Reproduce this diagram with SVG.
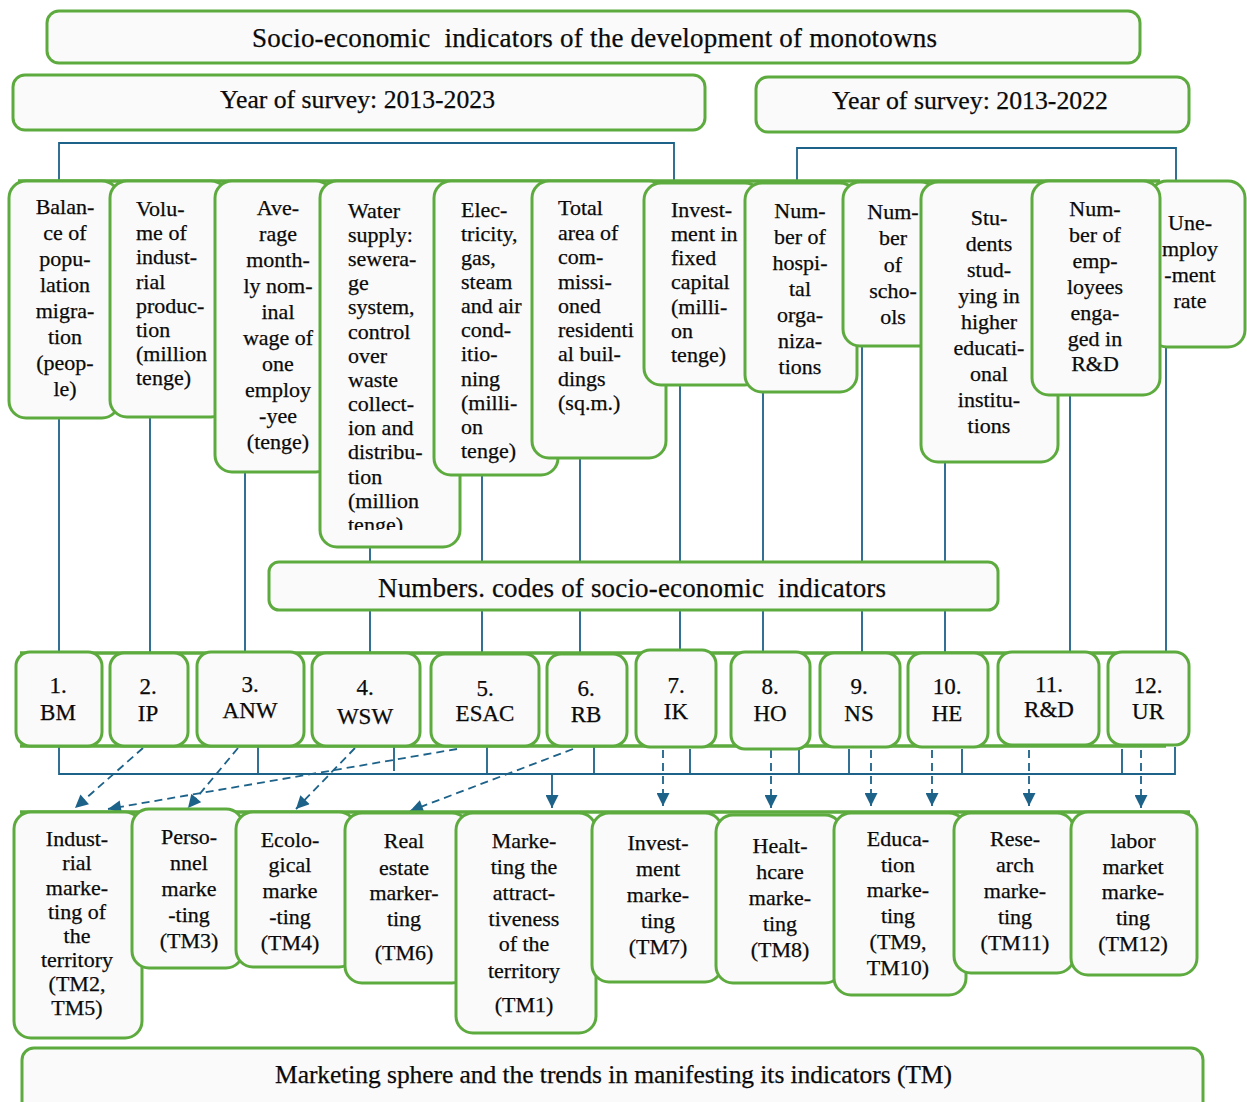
<svg xmlns="http://www.w3.org/2000/svg" width="1247" height="1102" viewBox="0 0 1247 1102" font-family="'Liberation Serif', 'Times New Roman', serif">
<style>
.box{fill:#fafafa;stroke:#5dab3e;stroke-width:3}
.t{font-family:'Liberation Serif','Times New Roman',serif;font-size:22px;fill:#0a0a0a;stroke:#0a0a0a;stroke-width:0.25}
.c{text-anchor:middle}
.big{font-size:27px}
.year{font-size:26px}
.foot{font-size:25.5px}
.code{font-size:23px}
.conn{stroke:#1d6289;stroke-width:1.8;fill:none}
.dash{stroke-dasharray:8 5}
.frame{stroke:#5dab3e;stroke-width:3.5;fill:none}
</style>
<defs>
<marker id="ah" viewBox="0 0 10 10" refX="10" refY="5" markerWidth="14" markerHeight="13" markerUnits="userSpaceOnUse" orient="auto">
<path d="M0,0 L10,5 L0,10 z" fill="#1d6289"/>
</marker>
<clipPath id="cw"><rect x="320" y="181" width="140" height="349"/></clipPath>
</defs>
<rect width="1247" height="1102" fill="#ffffff"/>

<g id="connectors">
<path class="conn" d="M59,181 V143 H674 V181"/>
<path class="conn" d="M797,181 V148 H1176 V181"/>
<path class="conn" d="M59,418 V652 M150,417 V652 M245,472 V652 M370,547 V652 M482,475 V652 M580,458 V652 M680,385 V652 M763,392 V652 M862,346 V652 M945,462 V652 M1070,395 V652 M1166,347 V652"/>
<path class="conn" d="M59,747 V774 H1175 V747 M258,747 V774 M394,747 V771 M487,747 V774 M594,747 V774 M690,749 V773 M799,749 V775 M849,749 V775 M962,749 V773 M1122,749 V775"/>
<path class="conn" stroke-width="3" d="M552,774 V808" marker-end="url(#ah)"/>
<g class="conn dash">
<path d="M143,748 L75,808" marker-end="url(#ah)"/>
<path d="M457,749 L108,809" marker-end="url(#ah)"/>
<path d="M238,748 L188,808" marker-end="url(#ah)"/>
<path d="M355,748 L296,809" marker-end="url(#ah)"/>
<path d="M573,749 L410,811" marker-end="url(#ah)"/>
<path d="M663,750 V806" marker-end="url(#ah)"/>
<path d="M771,750 V808" marker-end="url(#ah)"/>
<path d="M871,750 V806" marker-end="url(#ah)"/>
<path d="M932,750 V806" marker-end="url(#ah)"/>
<path d="M1029,750 V806" marker-end="url(#ah)"/>
<path d="M1141,750 V808" marker-end="url(#ah)"/>
</g>
</g>

<g id="title">
<rect class="box" x="47" y="11" width="1093" height="52" rx="12"/>
<text class="t big" x="252" y="47" textLength="685" lengthAdjust="spacing">Socio-economic&#160; indicators of the development of monotowns</text>
</g>
<g id="year-2013-2023">
<rect class="box" x="13" y="75" width="692" height="55" rx="12"/>
<text class="t year" x="220" y="108" textLength="275" lengthAdjust="spacingAndGlyphs">Year of survey: 2013-2023</text>
</g>
<g id="year-2013-2022">
<rect class="box" x="756" y="77" width="433" height="55" rx="12"/>
<text class="t year" x="832" y="109" textLength="276" lengthAdjust="spacingAndGlyphs">Year of survey: 2013-2022</text>
</g>

<line class="frame" x1="18" y1="181" x2="1160" y2="181"/>

<g id="ind-1">
<rect class="box" x="9" y="181" width="110" height="237" rx="17"/>
<text class="t c"><tspan x="65" y="214">Balan-</tspan><tspan x="65" y="240">ce of</tspan><tspan x="65" y="266">popu-</tspan><tspan x="65" y="292">lation</tspan><tspan x="65" y="318">migra-</tspan><tspan x="65" y="344">tion</tspan><tspan x="65" y="370">(peop-</tspan><tspan x="65" y="396">le)</tspan></text>
</g>
<g id="ind-2">
<rect class="box" x="110" y="181" width="118" height="236" rx="17"/>
<text class="t"><tspan x="136" y="216">Volu-</tspan><tspan x="136" y="240">me of</tspan><tspan x="136" y="264">indust-</tspan><tspan x="136" y="289">rial</tspan><tspan x="136" y="313">produc-</tspan><tspan x="136" y="337">tion</tspan><tspan x="136" y="361">(million</tspan><tspan x="136" y="385">tenge)</tspan></text>
</g>
<g id="ind-3">
<rect class="box" x="215" y="181" width="118" height="291" rx="17"/>
<text class="t c"><tspan x="278" y="215">Ave-</tspan><tspan x="278" y="241">rage</tspan><tspan x="278" y="267">month-</tspan><tspan x="278" y="293">ly nom-</tspan><tspan x="278" y="319">inal</tspan><tspan x="278" y="345">wage of</tspan><tspan x="278" y="371">one</tspan><tspan x="278" y="397">employ</tspan><tspan x="278" y="423">-yee</tspan><tspan x="278" y="449">(tenge)</tspan></text>
</g>
<g id="ind-4">
<rect class="box" x="320" y="181" width="140" height="366" rx="17"/>
<text class="t" clip-path="url(#cw)"><tspan x="348" y="218">Water</tspan><tspan x="348" y="242">supply:</tspan><tspan x="348" y="266">sewera-</tspan><tspan x="348" y="290">ge</tspan><tspan x="348" y="314">system,</tspan><tspan x="348" y="339">control</tspan><tspan x="348" y="363">over</tspan><tspan x="348" y="387">waste</tspan><tspan x="348" y="411">collect-</tspan><tspan x="348" y="435">ion and</tspan><tspan x="348" y="459">distribu-</tspan><tspan x="348" y="484">tion</tspan><tspan x="348" y="508">(million</tspan><tspan x="348" y="532">tenge)</tspan></text>
</g>
<g id="ind-5">
<rect class="box" x="434" y="181" width="124" height="294" rx="17"/>
<text class="t"><tspan x="461" y="217">Elec-</tspan><tspan x="461" y="241">tricity,</tspan><tspan x="461" y="265">gas,</tspan><tspan x="461" y="289">steam</tspan><tspan x="461" y="313">and air</tspan><tspan x="461" y="337">cond-</tspan><tspan x="461" y="361">itio-</tspan><tspan x="461" y="386">ning</tspan><tspan x="461" y="410">(milli-</tspan><tspan x="461" y="434">on</tspan><tspan x="461" y="458">tenge)</tspan></text>
</g>
<g id="ind-6">
<rect class="box" x="532" y="181" width="134" height="277" rx="17"/>
<text class="t"><tspan x="558" y="215">Total</tspan><tspan x="558" y="240">area of</tspan><tspan x="558" y="264">com-</tspan><tspan x="558" y="289">missi-</tspan><tspan x="558" y="313">oned</tspan><tspan x="558" y="337">residenti</tspan><tspan x="558" y="361">al buil-</tspan><tspan x="558" y="386">dings</tspan><tspan x="558" y="410">(sq.m.)</tspan></text>
</g>
<g id="ind-7">
<rect class="box" x="644" y="183" width="118" height="202" rx="17"/>
<text class="t"><tspan x="671" y="217">Invest-</tspan><tspan x="671" y="241">ment in</tspan><tspan x="671" y="265">fixed</tspan><tspan x="671" y="289">capital</tspan><tspan x="671" y="314">(milli-</tspan><tspan x="671" y="338">on</tspan><tspan x="671" y="362">tenge)</tspan></text>
</g>
<g id="ind-8">
<rect class="box" x="745" y="183" width="112" height="209" rx="17"/>
<text class="t c"><tspan x="800" y="218">Num-</tspan><tspan x="800" y="244">ber of</tspan><tspan x="800" y="270">hospi-</tspan><tspan x="800" y="296">tal</tspan><tspan x="800" y="322">orga-</tspan><tspan x="800" y="348">niza-</tspan><tspan x="800" y="374">tions</tspan></text>
</g>
<g id="ind-9">
<rect class="box" x="843" y="182" width="95" height="164" rx="17"/>
<text class="t c"><tspan x="893" y="219">Num-</tspan><tspan x="893" y="245">ber</tspan><tspan x="893" y="272">of</tspan><tspan x="893" y="298">scho-</tspan><tspan x="893" y="324">ols</tspan></text>
</g>
<g id="ind-10">
<rect class="box" x="921" y="182" width="137" height="280" rx="17"/>
<text class="t c"><tspan x="989" y="225">Stu-</tspan><tspan x="989" y="251">dents</tspan><tspan x="989" y="277">stud-</tspan><tspan x="989" y="303">ying in</tspan><tspan x="989" y="329">higher</tspan><tspan x="989" y="355">educati-</tspan><tspan x="989" y="381">onal</tspan><tspan x="989" y="407">institu-</tspan><tspan x="989" y="433">tions</tspan></text>
</g>
<g id="ind-12">
<rect class="box" x="1150" y="181" width="95" height="166" rx="17"/>
<text class="t c"><tspan x="1190" y="230">Une-</tspan><tspan x="1190" y="256">mploy</tspan><tspan x="1190" y="282">-ment</tspan><tspan x="1190" y="308">rate</tspan></text>
</g>
<g id="ind-11">
<rect class="box" x="1032" y="181" width="128" height="214" rx="17"/>
<text class="t c"><tspan x="1095" y="216">Num-</tspan><tspan x="1095" y="242">ber of</tspan><tspan x="1095" y="268">emp-</tspan><tspan x="1095" y="294">loyees</tspan><tspan x="1095" y="320">enga-</tspan><tspan x="1095" y="346">ged in</tspan><tspan x="1095" y="371">R&amp;D</tspan></text>
</g>

<g id="numbers-codes">
<rect class="box" x="269" y="562" width="729" height="48" rx="10"/>
<text class="t big" x="378" y="597" textLength="508" lengthAdjust="spacing">Numbers. codes of socio-economic&#160; indicators</text>
</g>

<line class="frame" x1="20" y1="653" x2="1166" y2="653"/>
<line class="frame" x1="20" y1="746" x2="1166" y2="746"/>

<g id="code-1"><rect class="box" x="16" y="652" width="86" height="94" rx="14"/><text class="t code c"><tspan x="58" y="693">1.</tspan><tspan x="58" y="720">BM</tspan></text></g>
<g id="code-2"><rect class="box" x="110" y="653" width="78" height="93" rx="14"/><text class="t code c"><tspan x="148" y="694">2.</tspan><tspan x="148" y="721">IP</tspan></text></g>
<g id="code-3"><rect class="box" x="197" y="652" width="107" height="94" rx="14"/><text class="t code c"><tspan x="250" y="692">3.</tspan><tspan x="250" y="718">ANW</tspan></text></g>
<g id="code-4"><rect class="box" x="312" y="653" width="108" height="93" rx="14"/><text class="t code c"><tspan x="365" y="695">4.</tspan><tspan x="365" y="724">WSW</tspan></text></g>
<g id="code-5"><rect class="box" x="431" y="654" width="108" height="92" rx="14"/><text class="t code c"><tspan x="485" y="696">5.</tspan><tspan x="485" y="721">ESAC</tspan></text></g>
<g id="code-6"><rect class="box" x="547" y="654" width="80" height="92" rx="14"/><text class="t code c"><tspan x="586" y="696">6.</tspan><tspan x="586" y="722">RB</tspan></text></g>
<g id="code-7"><rect class="box" x="636" y="650" width="80" height="97" rx="14"/><text class="t code c"><tspan x="676" y="693">7.</tspan><tspan x="676" y="719">IK</tspan></text></g>
<g id="code-8"><rect class="box" x="731" y="652" width="79" height="97" rx="14"/><text class="t code c"><tspan x="770" y="694">8.</tspan><tspan x="770" y="721">HO</tspan></text></g>
<g id="code-9"><rect class="box" x="820" y="653" width="80" height="94" rx="14"/><text class="t code c"><tspan x="859" y="694">9.</tspan><tspan x="859" y="721">NS</tspan></text></g>
<g id="code-10"><rect class="box" x="908" y="653" width="80" height="94" rx="14"/><text class="t code c"><tspan x="947" y="694">10.</tspan><tspan x="947" y="721">HE</tspan></text></g>
<g id="code-11"><rect class="box" x="998" y="652" width="101" height="93" rx="14"/><text class="t code c"><tspan x="1049" y="692">11.</tspan><tspan x="1049" y="717">R&amp;D</tspan></text></g>
<g id="code-12"><rect class="box" x="1108" y="652" width="81" height="93" rx="14"/><text class="t code c"><tspan x="1148" y="693">12.</tspan><tspan x="1148" y="719">UR</tspan></text></g>

<line class="frame" x1="20" y1="812" x2="1190" y2="812"/>

<g id="tm-2-5"><rect class="box" x="14" y="812" width="128" height="226" rx="17"/><text class="t c"><tspan x="77" y="846">Indust-</tspan><tspan x="77" y="870">rial</tspan><tspan x="77" y="895">marke-</tspan><tspan x="77" y="919">ting of</tspan><tspan x="77" y="943">the</tspan><tspan x="77" y="967">territory</tspan><tspan x="77" y="991">(TM2,</tspan><tspan x="77" y="1015">TM5)</tspan></text></g>
<g id="tm-3"><rect class="box" x="132" y="809" width="111" height="159" rx="17"/><text class="t c"><tspan x="189" y="844">Perso-</tspan><tspan x="189" y="870">nnel</tspan><tspan x="189" y="896">marke</tspan><tspan x="189" y="922">-ting</tspan><tspan x="189" y="948">(TM3)</tspan></text></g>
<g id="tm-4"><rect class="box" x="236" y="812" width="120" height="155" rx="17"/><text class="t c"><tspan x="290" y="847">Ecolo-</tspan><tspan x="290" y="872">gical</tspan><tspan x="290" y="898">marke</tspan><tspan x="290" y="924">-ting</tspan><tspan x="290" y="950">(TM4)</tspan></text></g>
<g id="tm-6"><rect class="box" x="345" y="813" width="124" height="170" rx="17"/><text class="t c"><tspan x="404" y="848">Real</tspan><tspan x="404" y="875">estate</tspan><tspan x="404" y="900">marker-</tspan><tspan x="404" y="926">ting</tspan><tspan x="404" y="960">(TM6)</tspan></text></g>
<g id="tm-1"><rect class="box" x="456" y="813" width="140" height="220" rx="17"/><text class="t c"><tspan x="524" y="848">Marke-</tspan><tspan x="524" y="874">ting the</tspan><tspan x="524" y="900">attract-</tspan><tspan x="524" y="926">tiveness</tspan><tspan x="524" y="951">of the</tspan><tspan x="524" y="978">territory</tspan><tspan x="524" y="1012">(TM1)</tspan></text></g>
<g id="tm-7"><rect class="box" x="592" y="813" width="130" height="169" rx="17"/><text class="t c"><tspan x="658" y="850">Invest-</tspan><tspan x="658" y="876">ment</tspan><tspan x="658" y="902">marke-</tspan><tspan x="658" y="928">ting</tspan><tspan x="658" y="954">(TM7)</tspan></text></g>
<g id="tm-8"><rect class="box" x="716" y="815" width="126" height="168" rx="17"/><text class="t c"><tspan x="780" y="853">Healt-</tspan><tspan x="780" y="879">hcare</tspan><tspan x="780" y="905">marke-</tspan><tspan x="780" y="931">ting</tspan><tspan x="780" y="957">(TM8)</tspan></text></g>
<g id="tm-9-10"><rect class="box" x="834" y="813" width="132" height="182" rx="17"/><text class="t c"><tspan x="898" y="846">Educa-</tspan><tspan x="898" y="872">tion</tspan><tspan x="898" y="897">marke-</tspan><tspan x="898" y="923">ting</tspan><tspan x="898" y="949">(TM9,</tspan><tspan x="898" y="975">TM10)</tspan></text></g>
<g id="tm-11"><rect class="box" x="954" y="813" width="120" height="160" rx="17"/><text class="t c"><tspan x="1015" y="846">Rese-</tspan><tspan x="1015" y="872">arch</tspan><tspan x="1015" y="898">marke-</tspan><tspan x="1015" y="924">ting</tspan><tspan x="1015" y="950">(TM11)</tspan></text></g>
<g id="tm-12"><rect class="box" x="1071" y="812" width="126" height="163" rx="17"/><text class="t c"><tspan x="1133" y="848">labor</tspan><tspan x="1133" y="874">market</tspan><tspan x="1133" y="899">marke-</tspan><tspan x="1133" y="925">ting</tspan><tspan x="1133" y="951">(TM12)</tspan></text></g>

<g id="marketing-sphere">
<rect class="box" x="22" y="1048" width="1181" height="70" rx="12"/>
<text class="t foot" x="275" y="1083" textLength="677" lengthAdjust="spacing">Marketing sphere and the trends in manifesting its indicators (TM)</text>
</g>
</svg>
